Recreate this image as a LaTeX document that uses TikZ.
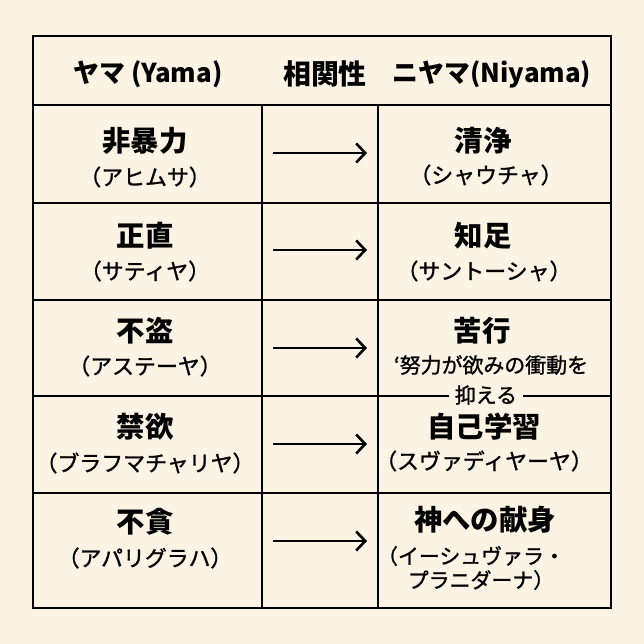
\documentclass[tikz,border=0pt]{standalone}
\usepackage{fontspec}
\setmainfont{Noto Sans CJK JP}
\newfontfamily\jpmed[FakeBold=1.2]{Noto Sans CJK JP}
\usetikzlibrary{arrows.meta}
\definecolor{paper}{HTML}{FBF3E4}
\begin{document}
\begin{tikzpicture}[x=1bp,y=-1bp,
    kanji/.style={font=\bfseries\fontsize{28.5}{32}\selectfont},
    kana/.style={font=\jpmed\fontsize{22}{26}\selectfont},
    note/.style={font=\jpmed\fontsize{21}{25}\selectfont},
    head/.style={font=\bfseries\fontsize{26}{30}\selectfont},
    rule/.style={line width=2.4bp},
    corr/.style={line width=2.6bp, -{Straight Barb[length=9bp,width=19bp]}}]
    % background and frame
    \fill[paper] (0,0) rectangle (644,644);
    \draw[rule] (33,36) rectangle (611,608);
    \foreach \y in {105,203,300,396,493} \draw[rule] (33,\y) -- (611,\y);
    \foreach \x in {262,378} \draw[rule] (\x,105) -- (\x,608);

    % header
    \node[head] (hyama) at (148,74) {ヤマ (Yama)};
    \node[head, font=\bfseries\fontsize{28}{32}\selectfont] (hcorr) at (325,74) {相関性};
    \node[head] (hniyama) at (492,74) {ニヤマ(Niyama)};

    % yama column
    \node[kanji] (y1) at (145,141) {非暴力};
    \node[kana]  (y1k) at (145,177) {（アヒムサ）};
    \node[kanji] (y2) at (145,236) {正直};
    \node[kana]  (y2k) at (145,271) {（サティヤ）};
    \node[kanji] (y3) at (145,331) {不盗};
    \node[kana]  (y3k) at (145,366) {（アステーヤ）};
    \node[kanji] (y4) at (145,427) {禁欲};
    \node[kana]  (y4k) at (145,463) {（ブラフマチャリヤ）};
    \node[kanji] (y5) at (145,522) {不貪};
    \node[kana]  (y5k) at (145,558) {（アパリグラハ）};

    % niyama column
    \node[kanji] (n1) at (483,141) {清浄};
    \node[kana]  (n1k) at (486,175) {（シャウチャ）};
    \node[kanji] (n2) at (483,236) {知足};
    \node[kana]  (n2k) at (484,271) {（サントーシャ）};
    \node[kanji] (n3) at (482,331) {苦行};
    \node[note]  (n3k) at (491,365) {‘努力が欲みの衝動を};
    \node[note, fill=paper, inner xsep=6bp, inner ysep=0pt] (n3k2) at (486,395) {抑える};
    \node[kanji] (n4) at (484,427) {自己学習};
    \node[kana]  (n4k) at (484,461) {（スヴァディヤーヤ）};
    \node[kanji] (n5) at (485,520) {神への献身};
    \node[note]  (n5k) at (471,556) {（イーシュヴァラ・};
    \node[note]  (n5k2) at (481,580) {プラニダーナ）};

    % correlation arrows
    \foreach \i/\y in {1/153,2/250,3/348,4/444,5/541} {
        \coordinate (s\i) at (273,\y);
        \coordinate (e\i) at (367,\y);
        \draw[corr] (s\i) -- (e\i);
    }
\end{tikzpicture}
\end{document}
